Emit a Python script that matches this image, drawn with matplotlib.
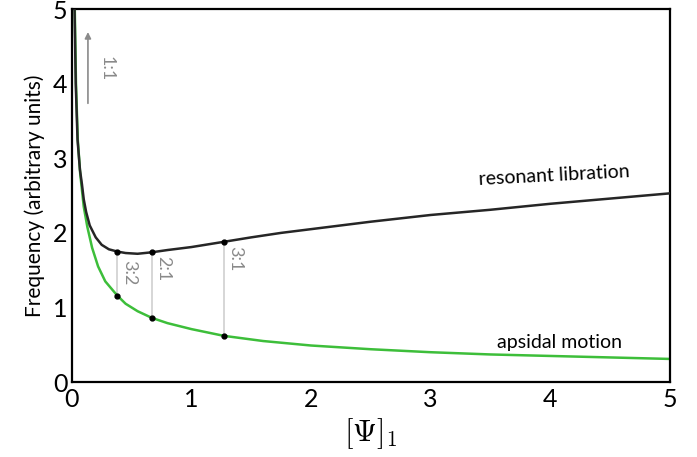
import numpy as np
import matplotlib.pyplot as plt

# values
apsidal_x = [0.025, 0.035, 0.05, 0.07, 0.1, 0.13, 0.17, 0.22, 0.28, 0.38, 0.45,
             0.55, 0.67, 0.8, 1.0, 1.27, 1.6, 2.0, 2.5, 3.0, 3.5, 4.0, 4.5, 5.0]
apsidal_y = [5.0, 4.0, 3.25, 2.8, 2.35, 2.08, 1.8, 1.55, 1.35, 1.16, 1.05,
             0.95, 0.86, 0.79, 0.71, 0.62, 0.55, 0.49, 0.44, 0.40, 0.37, 0.35, 0.33, 0.31]

libration_x = [0.023, 0.033, 0.048, 0.068, 0.085, 0.1, 0.12, 0.15, 0.2, 0.25, 0.31,
               0.38, 0.45, 0.55, 0.67, 0.8, 1.0, 1.27, 1.5, 1.75, 2.0, 2.5,
               3.0, 3.5, 4.0, 4.5, 5.0]
libration_y = [5.0, 4.0, 3.25, 2.85, 2.65, 2.45, 2.28, 2.1, 1.94, 1.84, 1.78,
               1.75, 1.73, 1.72, 1.74, 1.77, 1.81, 1.88, 1.94, 2.0, 2.05, 2.15,
               2.24, 2.31, 2.39, 2.46, 2.53]

res_x = [0.38, 0.67, 1.27]
res_low = [1.16, 0.86, 0.62]
res_high = [1.75, 1.74, 1.88]
res_labels = ["3:2", "2:1", "3:1"]
res_label_y = [1.47, 1.52, 1.66]

plt.rcParams['font.family'] = ['Lato', 'DejaVu Sans']
plt.rcParams['mathtext.fontset'] = 'cm'

fig = plt.figure(figsize=(6.97, 4.57), dpi=100)
ax = fig.add_axes([0.103, 0.164, 0.858, 0.816])

grey = '#8a8a8a'
for x, lo, hi, lab, ly in zip(res_x, res_low, res_high, res_labels, res_label_y):
    ax.plot([x, x], [lo, hi], color='#cfcfcf', lw=1.2, zorder=1)
    ax.text(x + 0.03, ly, lab, rotation=270, color=grey,
            fontsize=13, ha='left', va='center')

ax.plot(apsidal_x, apsidal_y, color='#3dbe3a', lw=1.8, zorder=2)
ax.plot(libration_x, libration_y, color='#262626', lw=1.8, zorder=3)
ax.plot(res_x, res_low, 'o', color='black', ms=3.5, zorder=4)
ax.plot(res_x, res_high, 'o', color='black', ms=3.5, zorder=4)

ax.annotate('', xy=(0.135, 4.73), xytext=(0.135, 3.7),
            arrowprops=dict(arrowstyle='-|>', color=grey, lw=1.2, mutation_scale=9))
ax.text(0.22, 4.2, "1:1", rotation=270, color=grey, fontsize=13, ha='left', va='center')

ax.text(4.03, 2.6, "resonant libration", fontsize=14, ha='center', va='bottom', rotation=3)
ax.text(4.08, 0.42, "apsidal motion", fontsize=14, ha='center', va='bottom')

ax.set_xlim(0, 5)
ax.set_ylim(0, 5)
ax.set_xticks([0, 1, 2, 3, 4, 5])
ax.set_yticks([0, 1, 2, 3, 4, 5])
ax.tick_params(length=0, labelsize=18)
ax.tick_params(axis='x', pad=4)
ax.tick_params(axis='y', pad=3)
for s in ax.spines.values():
    s.set_linewidth(1.6)

ax.set_xlabel(r'$[\Psi]_1$', fontsize=22, labelpad=4)
ax.set_ylabel('Frequency (arbitrary units)', fontsize=15, labelpad=6)

fig.savefig('out.png', dpi=100)
